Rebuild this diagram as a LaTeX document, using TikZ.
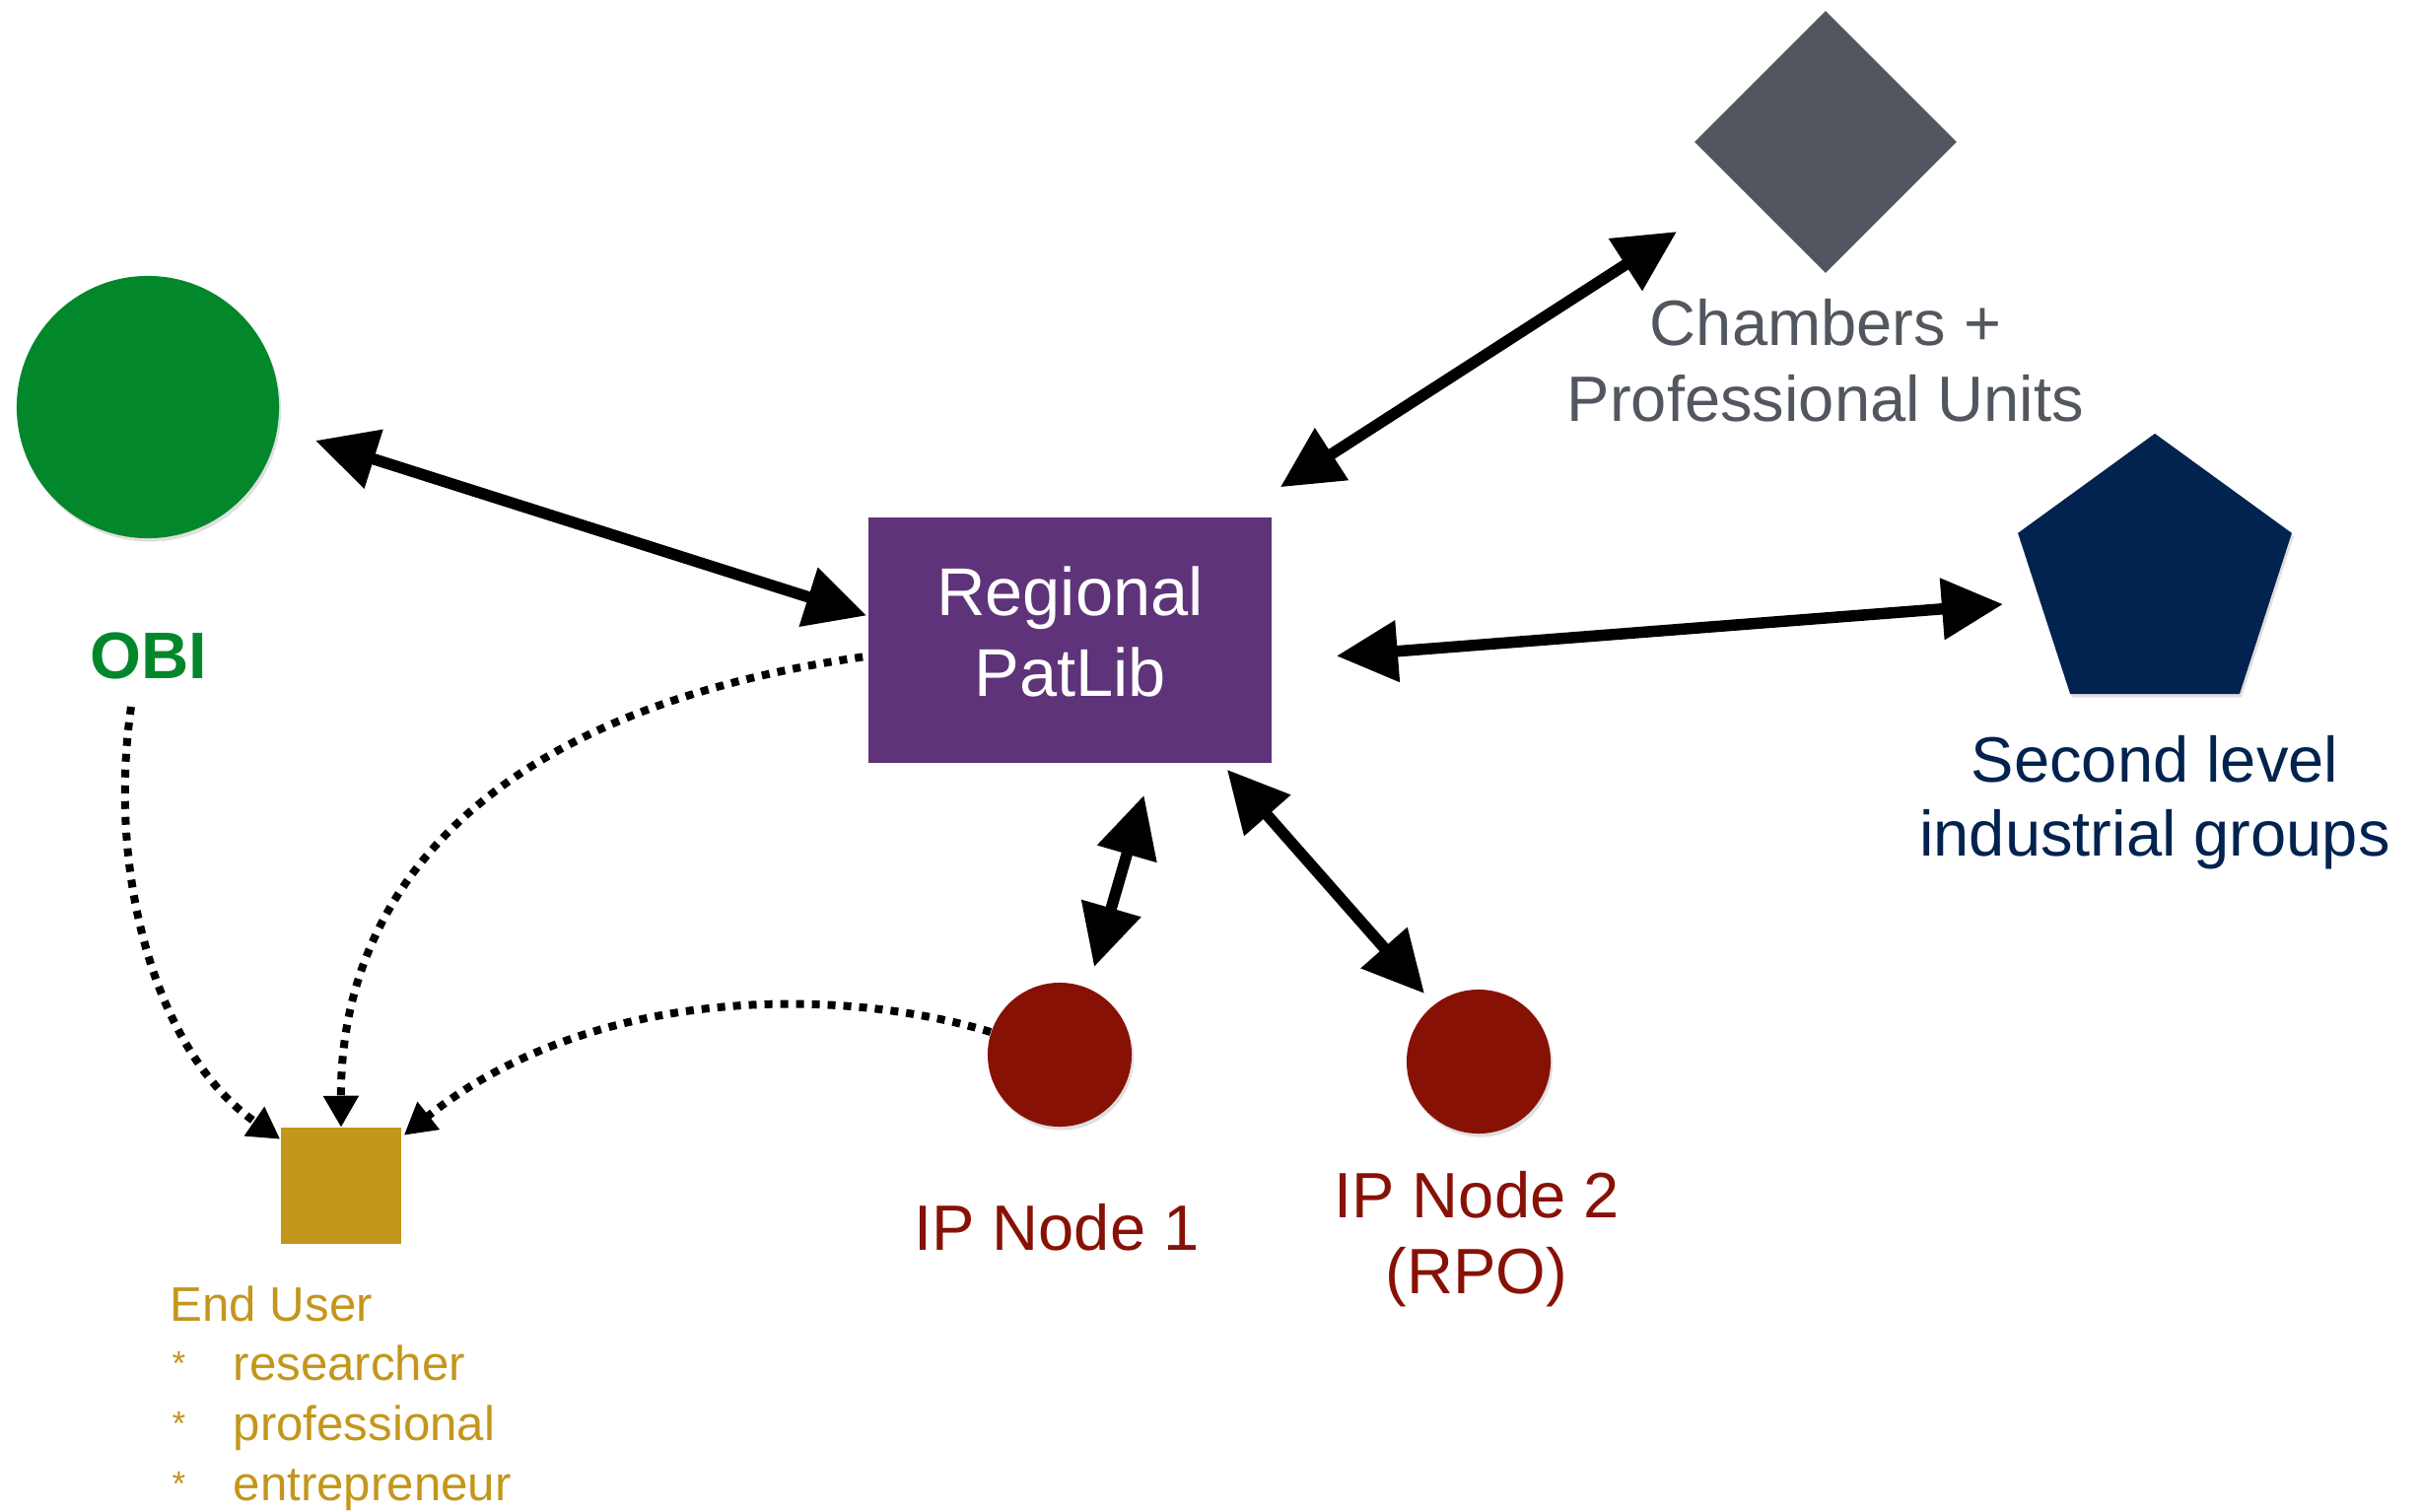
\documentclass[tikz,border=0pt]{standalone}
\usepackage{fontspec}
\setmainfont{Liberation Sans}
\usetikzlibrary{arrows.meta,shapes.geometric,calc,shadows}
\definecolor{obigreen}{RGB}{3,135,43}
\definecolor{plpurple}{RGB}{94,51,121}
\definecolor{chgray}{RGB}{82,87,95}
\definecolor{slnavy}{RGB}{2,35,79}
\definecolor{ipred}{RGB}{136,17,6}
\definecolor{eugold}{RGB}{195,150,28}
\newcommand{\smallstar}{\raisebox{0.05cm}{\fontsize{10pt}{10pt}\selectfont *}}
\tikzset{
  dbl/.style={line width=0.115cm,{Triangle[length=0.62cm,width=0.6cm]}-{Triangle[length=0.62cm,width=0.6cm]}},
  dotarrow/.style={line width=0.08cm,dash pattern=on 0.08cm off 0.08cm,-{Triangle[length=0.32cm,width=0.34cm]}},
  shad/.style={drop shadow={shadow xshift=0.02cm,shadow yshift=-0.035cm,opacity=0.25}},
  lbl/.style={inner sep=0,anchor=base,font=\fontsize{18.5pt}{22pt}\selectfont},
  eulbl/.style={inner sep=0,anchor=base west,text=eugold,font=\fontsize{14pt}{17pt}\selectfont},
}
\begin{document}
\begin{tikzpicture}[x=0.01cm,y=-0.01cm]
\useasboundingbox (0,0) rectangle (2455,1533);
% shapes
\node[circle,fill=obigreen,minimum size=2.66cm,inner sep=0,shad] (obi) at (150,413) {};
\node[rectangle,fill=plpurple,minimum width=4.09cm,minimum height=2.49cm,inner sep=0] (patlib) at (1085.5,649.5) {};
\node[text=white,align=center,inner sep=0,font=\fontsize{19.5pt}{23.3pt}\selectfont] (patlibtxt) at (1085.5,641) {Regional\\PatLib};
\node[diamond,fill=chgray,minimum width=2.66cm,minimum height=2.66cm,inner sep=0] (chamb) at (1852,144) {};
\node[regular polygon,regular polygon sides=5,fill=slnavy,minimum size=2.92cm,inner sep=0,shad] (pent) at (2186,586) {};
\node[circle,fill=ipred,minimum size=1.46cm,inner sep=0,shad] (ip1) at (1075,1070) {};
\node[circle,fill=ipred,minimum size=1.46cm,inner sep=0,shad] (ip2) at (1500,1077) {};
\node[rectangle,fill=eugold,minimum width=1.22cm,minimum height=1.17cm,inner sep=0] (eu) at (346,1203) {};
% labels
\node[lbl,text=obigreen,font=\fontsize{19pt}{22pt}\selectfont\bfseries] (obilbl) at (151,688) {OBI};
\node[lbl,text=chgray] (chlbl1) at (1852,350) {Chambers +};
\node[lbl,text=chgray] (chlbl2) at (1852,427) {Professional Units};
\node[lbl,text=slnavy] (sllbl1) at (2186,793) {Second level};
\node[lbl,text=slnavy] (sllbl2) at (2186,868) {industrial groups};
\node[lbl,text=ipred] (ip1lbl) at (1072,1268) {IP Node 1};
\node[lbl,text=ipred] (ip2lbl1) at (1498,1235) {IP Node 2};
\node[lbl,text=ipred] (ip2lbl2) at (1498,1312) {(RPO)};
\node[eulbl] (eulbl1) at (172,1340) {End User};
\node[eulbl] (eulbl2) at (174,1400) {\makebox[0.62cm][l]{\smallstar}researcher};
\node[eulbl] (eulbl3) at (174,1461) {\makebox[0.62cm][l]{\smallstar}professional};
\node[eulbl] (eulbl4) at (174,1522) {\makebox[0.62cm][l]{\smallstar}entrepreneur};
% double arrows
\draw[dbl] ($(obi.center)+(170,34)$) -- ($(patlib.west)+(-1,-25)$);
\draw[dbl] ($(patlib.north east)+(8,-30)$) -- ($(chamb.center)+(-151,91)$);
\draw[dbl] ($(patlib.east)+(65,16)$) -- ($(pent.center)+(-154,27)$);
\draw[dbl] ($(patlib.south)+(75,32)$) -- ($(ip1.center)+(35,-89)$);
\draw[dbl] ($(patlib.south east)+(-46,6)$) -- ($(ip2.center)+(-55,-69)$);
% dotted arrows
\draw[dotarrow] ($(obilbl.base)+(-18,29)$) .. controls (108,890) and (160,1070) .. ($(eu.north west)+(0,12)$);
\draw[dotarrow] ($(patlib.west)+(-5,17)$) .. controls (500,720) and (345,900) .. (eu.north);
\draw[dotarrow] ($(ip1.center)+(-70,-23)$) .. controls (850,1000) and (600,1000) .. ($(eu.north east)+(2,8)$);
\end{tikzpicture}
\end{document}
